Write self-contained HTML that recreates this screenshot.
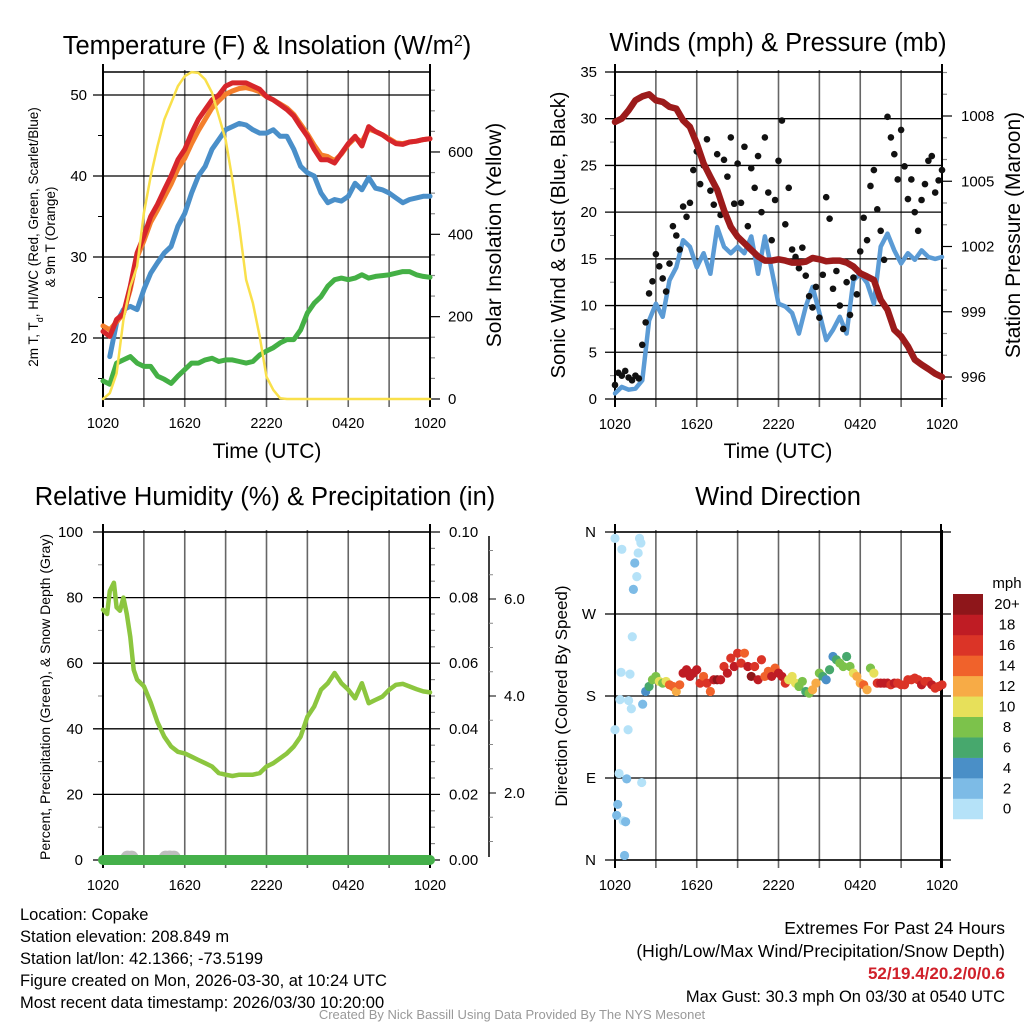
<!DOCTYPE html>
<html><head><meta charset="utf-8"><title>Copake Mesonet Meteogram</title>
<style>
html,body{margin:0;padding:0;background:#fff;}
svg{display:block;font-family:"Liberation Sans",Arial,sans-serif;}
</style></head>
<body>
<svg id="fig" width="1024" height="1024" viewBox="0 0 1024 1024" xmlns="http://www.w3.org/2000/svg">
<rect width="1024" height="1024" fill="#fff"/>
</svg>
<script>
// ---------- DATA ----------
const halfHours = [0,0.5,1,1.5,2,2.5,3,3.5,4,4.5,5,5.5,6,6.5,7,7.5,8,8.5,9,9.5,10,10.5,11,11.5,12,12.5,13,13.5,14,14.5,15,15.5,16,16.5,17,17.5,18,18.5,19,19.5,20,20.5,21,21.5,22,22.5,23,23.5,24];
const timeTickLabels = ["1020","1620","2220","0420","1020"];
const temp2m = [20.8,20.2,22.3,23,26.4,30.5,32.6,35,36.5,38.3,40,42,43.3,45.3,47,48.2,49.4,50,51.1,51.5,51.5,51.5,51.1,50.7,49.8,49.4,48.8,48.2,47.4,46.1,44.9,43.3,42,42,41.6,42.8,44,44.9,43.7,46.1,45.5,45.1,44.5,44,43.9,44.2,44.3,44.5,44.6];
const temp9m = [21.5,21,22,23,26,30,32,34.3,35.8,37.4,39,40.9,42.2,44,45.6,47,48.4,49.3,50.1,50.5,50.8,50.9,50.7,50.4,49.8,49.4,48.9,48.4,47.6,46.4,45.2,43.8,42.6,42.4,41.9,42.7,43.9,44.7,44.2,45.8,45.5,45.1,44.6,44.1,44,44.2,44.3,44.5,44.6];
const heatIndexWindChill = [null,17.7,21.9,23.5,23.9,23.5,26,28,29.3,30.5,31.3,33.8,35.4,37.9,40,41.2,43.3,44.5,45.7,46.1,46.5,46.3,45.7,45.3,45.3,45.7,44.9,44.9,43.3,41.2,40.4,40,37.9,36.7,37.1,36.9,37.5,39.1,38.3,39.8,38.5,38.3,37.9,37.3,36.7,37.1,37.3,37.5,37.5];
const dewpoint = [14.7,14.3,16.9,17.3,17.7,16.9,16.5,16.5,15.3,14.9,14.4,15.3,16.1,16.9,16.9,17.3,17.5,17.1,17.3,17.3,17.1,16.9,17.1,17.9,18.4,18.8,19.4,19.8,19.8,21,23.1,24.3,25.1,26.4,27.2,27.4,27.2,27.4,27.8,27.4,27.6,27.7,27.8,28,28.2,28.2,27.8,27.6,27.5];
const solar = [0,14,62,192,273,322,452,541,614,679,719,760,784,794,792,776,744,687,630,533,419,290,233,152,54,22,2,0,0,0,0,0,0,0,0,0,0,0,0,0,0,0,0,0,0,0,0,0,0];
const sonicWind = [0.6,1.3,1,1.1,2,8.4,10.2,8.8,12.7,14.1,17,16.3,14.1,15.6,13.4,18.4,16.3,15.6,16.3,15.6,17.4,13.4,17.4,13.8,10.2,9.9,9.2,7,9.9,12,9.2,6.3,7.4,8.8,7,12.7,13.4,12.4,10.2,16.3,17.7,15.9,14.5,15.6,14.9,15.9,15.2,15,15.2];
const pressure = [1007.73,1007.88,1008.26,1008.72,1008.9,1009.0,1008.72,1008.65,1008.42,1008.34,1007.8,1007.5,1006.73,1005.82,1005.2,1004.6,1003.67,1002.9,1002.45,1002.15,1001.84,1001.54,1001.35,1001.35,1001.41,1001.35,1001.26,1001.26,1001.3,1001.47,1001.41,1001.32,1001.35,1001.35,1001.26,1001.08,1000.77,1000.62,1000.46,999.55,999.09,998.17,997.87,997.41,996.8,996.57,996.37,996.15,996.0];
const quarterHours = [0,0.25,0.5,0.75,1,1.25,1.5,1.75,2,2.25,2.5,2.75,3,3.25,3.5,3.75,4,4.25,4.5,4.75,5,5.25,5.5,5.75,6,6.25,6.5,6.75,7,7.25,7.5,7.75,8,8.25,8.5,8.75,9,9.25,9.5,9.75,10,10.25,10.5,10.75,11,11.25,11.5,11.75,12,12.25,12.5,12.75,13,13.25,13.5,13.75,14,14.25,14.5,14.75,15,15.25,15.5,15.75,16,16.25,16.5,16.75,17,17.25,17.5,17.75,18,18.25,18.5,18.75,19,19.25,19.5,19.75,20,20.25,20.5,20.75,21,21.25,21.5,21.75,22,22.25,22.5,22.75,23,23.25,23.5,23.75,24];
const gust = [1.5,2.8,2.5,3.0,2.3,2.0,2.5,2.2,5.8,8.2,11.3,12.6,15.5,14.2,12.9,11.5,14.5,18.5,17.5,16.0,20.6,19.5,21.0,24.5,26.5,23.0,25.0,27.8,22.3,20.8,26.2,19.7,25.6,23.8,28.0,20.9,25.2,21.0,27.0,18.5,24.7,22.6,26.0,20.0,28.0,22.1,17.0,21.3,25.5,29.8,18.7,22.6,16.0,15.2,14.0,16.2,13.2,11.0,9.8,12.0,8.7,13.3,21.6,19.3,11.8,13.7,10.0,7.5,12.5,9.0,13.0,11.2,15.8,19.4,17.0,22.8,24.5,20.3,18.0,14.9,30.2,28.0,26.2,23.5,28.8,24.9,21.4,23.5,20.0,18.0,21.3,23.0,25.5,26.0,22.1,23.4,24.5];
const rhHours = [0,0.3,0.5,0.8,1,1.25,1.5,1.75,2,2.25,2.5,3,3.5,4,4.5,5,5.5,6,6.5,7,7.5,8,8.5,9,9.5,10,10.5,11,11.5,12,12.5,13,13.5,14,14.5,15,15.5,16,16.5,17,17.5,18,18.5,19,19.5,20,20.5,21,21.5,22,22.5,23,23.5,24];
const relHumidity = [76.3,75,82,84.5,77,76,80,75,68,58,55,53,48,42,37.6,34.6,33,32.5,31.5,30.5,29.5,28.5,26.5,26,25.6,26,26,26,26.5,28.5,29.5,31,32.5,34.6,37.6,43.7,46.8,51.9,53.9,57,53.9,51.9,49.3,53.9,47.8,48.8,49.8,51.9,53.4,53.7,52.9,52.1,51.4,51.1];
const precipHours = [0,24];
const precip = [0,0];
const snowHours = [1.8,2.1,4.6,4.9,5.2];
const snowDepth = [0.1,0.1,0.1,0.15,0.1];
const dirHours = [0.0,0.5,1.8,1.9,1.7,1.45,1.6,1.35,1.27,0.44,1.1,0.37,1.0,1.2,2.03,0.0,0.96,0.3,0.86,1.96,0.2,0.12,0.6,0.78,0.7,2.25,2.5,2.75,3,3.25,3.5,3.75,4,4.25,4.5,4.75,5,5.25,5.5,5.75,6,6.25,6.5,6.75,7,7.25,7.5,7.75,8,8.25,8.5,8.75,9,9.25,9.5,9.75,10,10.25,10.5,10.75,11,11.25,11.5,11.75,12,12.25,12.5,12.75,13,13.25,13.5,13.75,14,14.25,14.5,14.75,15,15.25,15.5,15.75,16,16.25,16.5,16.75,17,17.25,17.5,17.75,18,18.25,18.5,18.75,19,19.25,19.5,19.75,20,20.25,20.5,20.75,21,21.25,21.5,21.75,22,22.25,22.5,22.75,23,23.25,23.5,23.75,24];
const windDir = [353,341,353,348,337,326,311,297,245,206,204,176,175,166,171,143,143,95,89,85,61,49,43,42,5,185,190.5,197.8,201.5,196,194.1,196,192.3,190.5,185,192.3,205.1,208.8,201.5,205.1,208.8,194.1,201.5,194.1,185,197.8,197.8,197.8,212.4,205.1,221.6,212.4,227,216.1,227,212.4,201.5,212.4,197.8,219.8,201.5,207,201.5,210.6,205.1,201.5,194.1,197.8,201.5,194.1,190.5,196,185,183.1,186.8,194.1,205.1,201.5,197.8,208.8,223.4,219.8,216.1,212.4,223.4,212.4,205.1,201.5,194.1,192.3,186.8,210.6,205.1,194.1,194.1,194.1,194.1,192.3,194.1,194.1,192.3,192.3,197.8,197.8,199.6,197.8,192.3,196,196,192.3,188.6,190.5,192.3];
const windSpeed = [1,1,1,1,1,3,1,3,1,1,1,1,1,1,3,1,1,1,3,1,3,3,1,3,3,4,6,8,8,10,8,10,14,14,12,14,18,18,18,18,18,16,14,16,14,18,20,18,16,18,16,18,16,16,14,18,20,16,18,16,14,14,18,14,18,18,16,10,10,10,8,8,6,8,12,12,8,6,4,6,4,6,8,8,6,8,10,12,12,14,12,8,10,16,18,18,18,16,18,16,16,16,16,16,16,16,18,16,16,18,16,16,16];
const speedLevels = ["0","2","4","6","8","10","12","14","16","18","20+"];
const speedColors = ["#b5e2f8","#7dbbe6","#4a8fc7","#47a86d","#7cc24b","#e7e05a","#f7ab46","#f0622b","#db3427","#bf1c24","#8e161a"];
const extremesText = "52/19.4/20.2/0/0.6";

// ---------- HELPERS ----------
const NS = "http://www.w3.org/2000/svg";
const svg = document.getElementById("fig");
function mk(tag, attrs, parent) {
  const e = document.createElementNS(NS, tag);
  for (const k in attrs) e.setAttribute(k, attrs[k]);
  (parent || svg).appendChild(e);
  return e;
}
function txt(str, x, y, size, anchor, parent, extra) {
  const t = mk("text", Object.assign({x: x, y: y, "font-size": size, "text-anchor": anchor || "start", fill: "#000"}, extra || {}), parent);
  t.textContent = str;
  return t;
}
function line(x1, y1, x2, y2, stroke, w, parent) {
  return mk("line", {x1: x1, y1: y1, x2: x2, y2: y2, stroke: stroke, "stroke-width": w}, parent);
}
const PW = 327;
function xOf(P, h) { return P.x0 + h * PW / 24; }

function frame(P, name) {
  const g = mk("g", {});
  
  
  for (let h = 0; h <= 24; h += 3) {
    const x = xOf(P, h);
    const l = line(x, P.y0 - 2, x, P.y1 + 8, (h === 0 || h === 24) ? "#000" : "#666", (h === 0 || h === 24) ? 2 : 1.6, g);
    
    
  }
  line(P.x0 - 1, P.y0, P.x1 + 1, P.y0, "#000", 1.6, g);
  line(P.x0 - 1, P.y1, P.x1 + 1, P.y1, "#000", 1.6, g);
  for (let i = 0; i < timeTickLabels.length; i++) {
    const t = txt(timeTickLabels[i], xOf(P, i * 6), P.labY, 14.5, "middle", g);
    
    
  }
  return g;
}
function pathFrom(xs, ys, P, yf, color, w, name) {
  let d = "", pen = false;
  for (let i = 0; i < xs.length; i++) {
    if (ys[i] === null) { pen = false; continue; }
    d += (pen ? "L" : "M") + xOf(P, xs[i]).toFixed(1) + "," + yf(ys[i]).toFixed(1);
    pen = true;
  }
  const p = mk("path", {d: d, fill: "none", stroke: color, "stroke-width": w, "stroke-linejoin": "round", "stroke-linecap": "round"});
  
  
  return p;
}
function title(str, x, y, name) {
  const t = txt(str, x, y, 25.5, "middle");
  
  
  return t;
}
function rotTitle(str, x, y, size, name) {
  const t = txt(str, x, y, size, "middle", svg, {transform: "rotate(-90 " + x + " " + y + ")"});
  
  
  return t;
}

// ---------- PANEL 1 ----------
const P1 = {x0: 103, x1: 430, y0: 72, y1: 399, labY: 428};
const yT = v => 338 - (v - 20) * 8.1;
const yS = v => 399 - v * 0.4117;
frame(P1, "temperature-panel");
for (let v = 20; v <= 50; v += 10) {
  const l = line(P1.x0 - 10, yT(v), P1.x1, yT(v), "#000", 1.3);
  
  
  const t = txt(String(v), P1.x0 - 16, yT(v) + 5, 15, "end");
  
  
}
for (let v = 15; v <= 50; v += 5) line(P1.x0 - 5, yT(v), P1.x0, yT(v), "#000", 1);
for (let v = 0; v <= 750; v += 50) {
  const major = v % 200 === 0;
  line(P1.x1, yS(v), P1.x1 + (major ? 10 : 5), yS(v), major ? "#000" : "#888", 1.2);
  if (major) {
    const t = txt(String(v), P1.x1 + 18, yS(v) + 5, 15, "start");
    
    
  }
}
line(P1.x0, P1.y0 - 8, P1.x0, P1.y1 + 8, "#000", 2);
line(P1.x1, P1.y0 - 8, P1.x1, P1.y1 + 8, "#000", 2);
pathFrom(halfHours, dewpoint, P1, yT, "#44b045", 5, "dewpoint-line");
pathFrom(halfHours, heatIndexWindChill, P1, yT, "#4a8fc9", 5, "wind-chill-line");
pathFrom(halfHours, temp9m, P1, yT, "#f47f2c", 5, "temp-9m-line");
pathFrom(halfHours, temp2m, P1, yT, "#d7262b", 5, "temp-2m-line");
pathFrom(halfHours, solar, P1, yS, "#f9e04b", 2.5, "solar-insolation-line");
const t1 = txt("Temperature (F) & Insolation (W/m", 267, 54, 25.5, "middle");


const sup = mk("tspan", {"baseline-shift": "super", "font-size": 16}, t1); sup.textContent = "2";
const sup2 = mk("tspan", {}, t1); sup2.textContent = ")";
{
  const x = 38, y = 237;
  const t = txt("2m T, T", x, y, 13.5, "middle", svg, {transform: "rotate(-90 " + x + " " + y + ")"});
  
  
  const s = mk("tspan", {"baseline-shift": "sub", "font-size": 9}, t); s.textContent = "d";
  const s2 = mk("tspan", {}, t); s2.textContent = ", HI/WC (Red, Green, Scarlet/Blue)";
}
rotTitle("& 9m T (Orange)", 55, 237, 13.5, "temperature-y-axis-title-line2");
rotTitle("Solar Insolation (Yellow)", 501, 235, 21, "solar-y-axis-title");
{ const t = txt("Time (UTC)", 267, 458, 21, "middle");   }

// ---------- PANEL 2 ----------
const P2 = {x0: 615, x1: 942, y0: 72, y1: 399, labY: 429};
const yW = v => 399 - v * 9.343;
const yP = v => 377 - (v - 996) * 21.75;
frame(P2, "winds-panel");
for (let v = 0; v <= 35; v += 5) {
  const l = line(P2.x0 - 10, yW(v), P2.x1, yW(v), "#000", 1.3);
  
  
  const t = txt(String(v), 597, yW(v) + 5, 15, "end");
  
  
}
for (let v = 2.5; v <= 35; v += 5) line(P2.x0 - 5, yW(v), P2.x0, yW(v), "#888", 1);
for (let v = 994; v <= 1011; v += 1) {
  if (yP(v) < P2.y0 || yP(v) > P2.y1) continue;
  const major = (v - 996) % 3 === 0;
  line(P2.x1, yP(v), P2.x1 + (major ? 10 : 5), yP(v), major ? "#000" : "#888", 1.2);
  if (major) {
    const t = txt(String(v), 961, yP(v) + 5, 15, "start");
    
    
  }
}
line(P2.x0, P2.y0 - 8, P2.x0, P2.y1 + 8, "#000", 2);
line(P2.x1, P2.y0 - 8, P2.x1, P2.y1 + 8, "#000", 2);
pathFrom(halfHours, sonicWind, P2, yW, "#5b9bd5", 4.5, "sonic-wind-line");
for (let i = 0; i < gust.length; i++) {
  const c = mk("circle", {cx: xOf(P2, quarterHours[i]), cy: yW(gust[i]), r: 3.3, fill: "#111"});
  
  
}
pathFrom(halfHours, pressure, P2, yP, "#9c1b1b", 6.5, "station-pressure-line");
title("Winds (mph) & Pressure (mb)", 778, 51, "winds-panel-title");
rotTitle("Sonic Wind & Gust (Blue, Black)", 565, 235, 20, "wind-y-axis-title");
rotTitle("Station Pressure (Maroon)", 1020, 235, 21, "pressure-y-axis-title");
{ const t = txt("Time (UTC)", 778, 458, 21, "middle");   }

// ---------- PANEL 3 ----------
const P3 = {x0: 103, x1: 430, y0: 532, y1: 860, labY: 890};
const yR = v => 860 - v * 3.28;
const yPr = v => 860 - v * 3280;
frame(P3, "humidity-panel");
for (let v = 0; v <= 100; v += 20) {
  const l = line(P3.x0 - 10, yR(v), P3.x1, yR(v), "#000", 1.3);
  
  
  const t = txt(String(v), 83, yR(v) + 5, 15, "end");
  
  
}
for (let v = 10; v <= 90; v += 20) line(P3.x0 - 5, yR(v), P3.x0, yR(v), "#888", 1);
for (let k = 0; k <= 20; k++) {
  const v = k * 0.005, major = k % 4 === 0;
  line(P3.x1, yPr(v), P3.x1 + (major ? 10 : 5), yPr(v), major ? "#000" : "#888", 1.2);
  if (major) {
    const t = txt(v.toFixed(2), 449, yPr(v) + 5, 15, "start");
    
    
  }
}
line(P3.x0, P3.y0 - 8, P3.x0, P3.y1 + 8, "#000", 2);
line(P3.x1, P3.y0 - 8, P3.x1, P3.y1 + 8, "#000", 2);
{
  const ySn = v => 793 - (v - 2) * 48.5;
  const ax = line(489, 536, 489, 857, "#000", 1.5);
  
  
  for (let v = 1; v <= 7.01; v += 0.5) {
    const major = Math.abs(v % 2) < 0.01;
    line(489, ySn(v), 489 + (major ? 7 : 4), ySn(v), major ? "#000" : "#888", 1);
    if (major) {
      const t = txt(v.toFixed(1), 504, ySn(v) + 5, 15, "start");
      
      
    }
  }
}
for (let i = 0; i < snowHours.length; i++) {
  const c = mk("circle", {cx: xOf(P3, snowHours[i]), cy: yR(snowDepth[i]) - 2, r: 7, fill: "#bdbdbd"});
  
  
}
{
  const p = mk("path", {d: "M" + xOf(P3, precipHours[0]) + "," + yPr(precip[0]) + "L" + xOf(P3, precipHours[1]) + "," + yPr(precip[1]), stroke: "#45b04a", "stroke-width": 10, "stroke-linecap": "round", fill: "none"});
  
  
}
pathFrom(rhHours, relHumidity, P3, yR, "#8cc63f", 4.5, "relative-humidity-line");
title("Relative Humidity (%) & Precipitation (in)", 265, 505, "humidity-panel-title");
rotTitle("Percent, Precipitation (Green), & Snow Depth (Gray)", 50, 697, 14, "humidity-y-axis-title");

// ---------- PANEL 4 ----------
const P4 = {x0: 615, x1: 941, y0: 532, y1: 860, labY: 890};
const yD = d => 860 - d * 0.9111;
frame(P4, "wind-direction-panel");
const dirLabels = ["N", "E", "S", "W", "N"];
for (let i = 0; i < 5; i++) {
  const y = yD(i * 90);
  const l = line(P4.x0 - 10, y, P4.x1 + 10, y, "#000", 1.3);
  
  
  const t = txt(dirLabels[i], 596, y + 5, 15, "end");
  
  
}
line(P4.x0, P4.y0 - 8, P4.x0, P4.y1 + 8, "#000", 2);
line(P4.x1, P4.y0 - 8, P4.x1, P4.y1 + 8, "#000", 2);
function speedColor(s) { return speedColors[Math.min(10, Math.floor(s / 2))]; }
for (let i = 0; i < windDir.length; i++) {
  const c = mk("circle", {cx: xOf(P4, dirHours[i]), cy: yD(windDir[i]), r: 4.6, fill: speedColor(windSpeed[i])});
  
  
}
title("Wind Direction", 778, 505, "wind-direction-panel-title");
rotTitle("Direction (Colored By Speed)", 567, 696, 17, "direction-y-axis-title");
{
  const g = mk("g", {});
  
  
  const bh = 20.45;
  for (let i = 0; i < speedLevels.length; i++) {
    const y = 594 + (speedLevels.length - 1 - i) * bh;
    const r = mk("rect", {x: 953, y: y, width: 30, height: bh + 0.3, fill: speedColors[i]}, g);
    
    
    const t = txt(speedLevels[i], 1007, y + bh / 2 + 5, 15, "middle", g);
    
    
  }
  const u = txt("mph", 1007, 588, 15, "middle", g);
  
  
}

// ---------- FOOTER ----------
const leftLines = ["Location: Copake", "Station elevation: 208.849 m", "Station lat/lon: 42.1366; -73.5199", "Figure created on Mon, 2026-03-30, at 10:24 UTC", "Most recent data timestamp: 2026/03/30 10:20:00"];
for (let i = 0; i < leftLines.length; i++) {
  const t = txt(leftLines[i], 20, 920 + i * 22, 16.5, "start");
  
  
}
{
  const a = txt("Extremes For Past 24 Hours", 1005, 934, 17.5, "end");
  
  
  const b = txt("(High/Low/Max Wind/Precipitation/Snow Depth)", 1005, 957, 17.5, "end");
  
  
  const c = txt(extremesText, 1005, 979, 17, "end", svg, {fill: "#d0202a", "font-weight": "bold"});
  
  
  const d = txt("Max Gust: 30.3 mph On 03/30 at 0540 UTC", 1005, 1002, 16.5, "end");
  
  
  const e = txt("Created By Nick Bassill Using Data Provided By The NYS Mesonet", 512, 1019, 13, "middle", svg, {fill: "#999"});
  
  
}
</script>
</body></html>
